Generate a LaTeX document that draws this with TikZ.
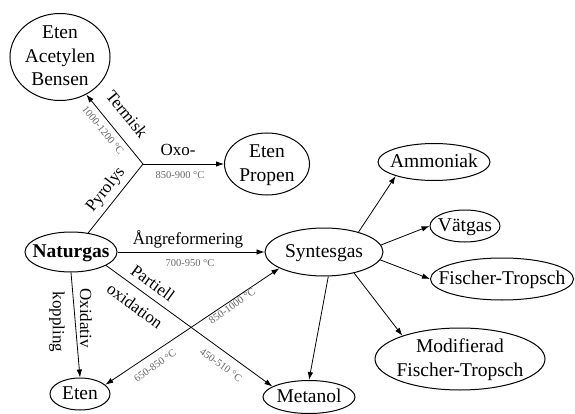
\documentclass[tikz,border=0pt]{standalone}
\usepackage{fontspec}
\setmainfont{Liberation Serif}
\usetikzlibrary{arrows.meta,shapes.geometric}
\newcommand\boxtxt[1]{\smash{\makebox[0pt]{\raisebox{-0.3em}{\begin{tabular}{@{}c@{}}#1\end{tabular}}}}}
\begin{document}
\begin{tikzpicture}[x=1pt,y=-1pt,
  box/.style={draw, ellipse, line width=1pt, inner sep=0pt, font=\fontsize{19.5}{23.5}\selectfont},
  lbl/.style={inner sep=0pt, font=\fontsize{17}{19}\selectfont},
  sml/.style={inner sep=0pt, font=\fontsize{10.5}{12}\selectfont, text=black!60},
  arr/.style={-{Latex[length=8pt,width=5.5pt]}, line width=0.8pt},
  ln/.style={line width=0.8pt}]
\useasboundingbox (0,0) rectangle (575,414);

% nodes
\node[box, minimum width=100pt, minimum height=87pt] (eab) at (60,57) {\boxtxt{Eten\\Acetylen\\Bensen}};
\node[box, minimum width=85pt, minimum height=62pt] (ep) at (267,164) {\boxtxt{Eten\\Propen}};
\node[box, minimum width=92pt, minimum height=40pt] (nat) at (71,252) {\boxtxt{\bfseries Naturgas}};
\node[box, minimum width=118pt, minimum height=48pt] (syn) at (324,252) {\boxtxt{Syntesgas}};
\node[box, minimum width=112pt, minimum height=37pt] (amm) at (434,162) {\boxtxt{Ammoniak}};
\node[box, minimum width=70pt, minimum height=32pt] (vat) at (465,226) {\boxtxt{Vätgas}};
\node[box, minimum width=143pt, minimum height=42pt] (ft) at (502,279) {\boxtxt{Fischer-Tropsch}};
\node[box, minimum width=170pt, minimum height=62pt] (mod) at (460,359) {\boxtxt{Modifierad\\Fischer-Tropsch}};
\node[box, minimum width=92pt, minimum height=33pt] (met) at (309,397) {\boxtxt{Metanol}};
\node[box, minimum width=60pt, minimum height=32pt] (eten) at (80,394) {\boxtxt{Eten}};

% pyrolysis branch
\coordinate (J) at (143,164);
\draw[ln] (nat.48) -- (J);
\draw[arr] (J) -- (eab.-55);
\draw[arr] (J) -- (ep.west);

% steam reforming
\draw[arr] (nat.east) -- (syn.west);

% oxidative coupling
\draw[arr] (nat.south) -- (eten.north);

% partial oxidation
\coordinate (X) at (intersection of nat.339--met.164 and eten.20--syn.200);
\draw[ln] (nat.339) -- (X);
\draw[arr] (X) -- (met.164);
\draw[arr] (X) -- (eten.20);
\draw[arr] (X) -- (syn.200);

% from syngas
\draw[arr] (syn.30) -- (amm.200);
\draw[arr] (syn.7) -- (vat.west);
\draw[arr] (syn.352) -- (ft.west);
\draw[arr] (syn.325) -- (mod.158);
\draw[arr] (syn.280) -- (met.north);

% labels
\node[lbl, rotate=-51] (lterm) at (127,114) {Termisk};
\node[sml, rotate=-51] (tterm) at (103,130) {1000-1200 °C};
\node[lbl, rotate=52] (lpyr) at (106,190) {Pyrolys};
\node[lbl] (loxo) at (178,150) {Oxo-};
\node[sml] (toxo) at (180,175) {850-900 °C};
\node[lbl] (lang) at (188,239) {Ångreformering};
\node[sml] (tang) at (190,263) {700-950 °C};
\node[lbl, rotate=-36] (lpart) at (153,283) {Partiell};
\node[lbl, rotate=-36] (loxid) at (135,306) {oxidation};
\node[sml, rotate=35.5] (tsyn) at (232,306) {850-1000 °C};
\node[sml, rotate=35.5] (teten) at (155,366) {650-850 °C};
\node[sml, rotate=-36] (tmet) at (221,365) {450-510 °C};
\node[lbl, rotate=-90] (lox) at (86,318) {Oxidativ};
\node[lbl, rotate=-90] (lkop) at (57,322) {koppling};
\end{tikzpicture}
\end{document}
